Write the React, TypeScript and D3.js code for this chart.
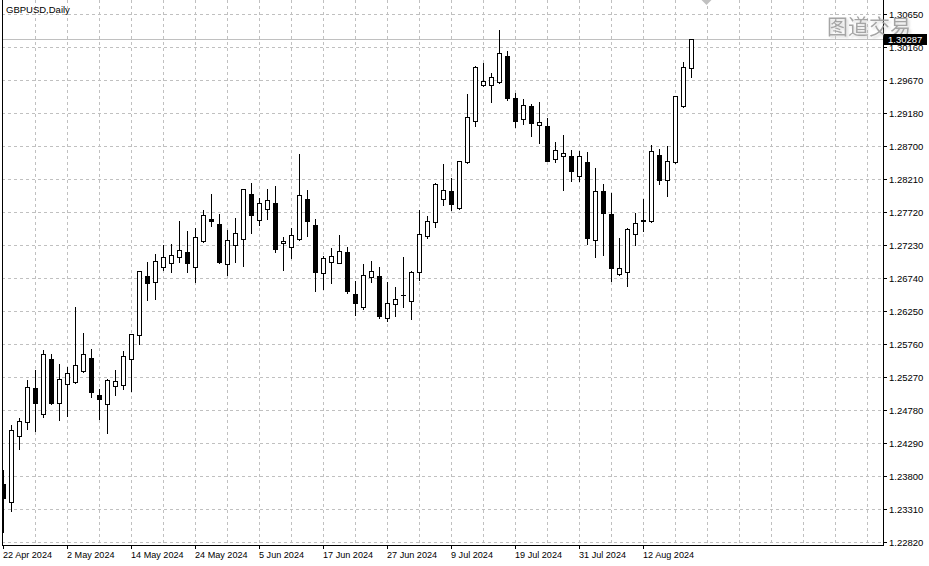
import React from 'react';
import * as d3 from 'd3';

const chartTitle = 'GBPUSD,Daily';
const watermark = '图道交易';
const startDate = '2024-04-22';

const openPrices = [
  1.23676, 1.23404, 1.24384, 1.24592, 1.25097, 1.24711, 1.25527, 1.24883, 1.25165, 1.25190,
  1.25349, 1.25546, 1.24997, 1.24859, 1.25126, 1.25141, 1.25527, 1.25883, 1.26760, 1.26670,
  1.26893, 1.26953, 1.27053, 1.27120, 1.26902, 1.27279, 1.27610, 1.27536, 1.26947, 1.27229,
  1.27318, 1.27982, 1.27600, 1.27763, 1.27848, 1.27250, 1.27199, 1.27309, 1.27903, 1.27517,
  1.26804, 1.26967, 1.26953, 1.27116, 1.26497, 1.26308, 1.26754, 1.26764, 1.26136, 1.26344,
  1.26477, 1.26397, 1.26819, 1.27362, 1.27561, 1.27903, 1.28026, 1.27769, 1.28452, 1.29061,
  1.29596, 1.29596, 1.29640, 1.30031, 1.29402, 1.29091, 1.29284, 1.29002, 1.28987, 1.28497,
  1.28541, 1.28546, 1.28253, 1.28452, 1.27294, 1.28022, 1.27685, 1.26794, 1.26819, 1.27383,
  1.27595, 1.27576, 1.28561, 1.28194, 1.28461, 1.29293, 1.29848,
];
const highPrices = [
  1.23894, 1.24562, 1.24666, 1.25235, 1.25383, 1.25680, 1.25616, 1.25472, 1.25428, 1.26319,
  1.25933, 1.25695, 1.25097, 1.25245, 1.25379, 1.25661, 1.25907, 1.26849, 1.26982, 1.27101,
  1.27235, 1.27250, 1.27595, 1.27447, 1.27487, 1.27754, 1.28001, 1.27704, 1.27462, 1.27640,
  1.28066, 1.28160, 1.27937, 1.28071, 1.28115, 1.27358, 1.27487, 1.28590, 1.28056, 1.27621,
  1.27083, 1.27190, 1.27388, 1.27209, 1.26705, 1.26953, 1.27002, 1.26912, 1.26690, 1.26616,
  1.27061, 1.26853, 1.27759, 1.27670, 1.28155, 1.28442, 1.28238, 1.28470, 1.29481, 1.29892,
  1.29941, 1.29789, 1.30431, 1.30120, 1.29500, 1.29407, 1.29328, 1.29362, 1.29125, 1.28768,
  1.28872, 1.28650, 1.28635, 1.28620, 1.28382, 1.28140, 1.28007, 1.27339, 1.27496, 1.27714,
  1.27918, 1.28724, 1.28669, 1.28709, 1.29436, 1.29956, 1.30300,
];
const lowPrices = [
  1.22967, 1.23279, 1.24195, 1.24497, 1.24463, 1.24670, 1.24863, 1.24626, 1.24685, 1.25180,
  1.25345, 1.24972, 1.24645, 1.24437, 1.25002, 1.25091, 1.25061, 1.25750, 1.26408, 1.26422,
  1.26860, 1.26826, 1.26976, 1.26823, 1.26679, 1.27275, 1.27506, 1.26961, 1.26779, 1.26972,
  1.26912, 1.27407, 1.27521, 1.27606, 1.27120, 1.26853, 1.27031, 1.27305, 1.27358, 1.26546,
  1.26564, 1.26665, 1.26950, 1.26516, 1.26185, 1.26270, 1.26679, 1.26136, 1.26100, 1.26175,
  1.26308, 1.26126, 1.26705, 1.27333, 1.27496, 1.27818, 1.27744, 1.27765, 1.28448, 1.28991,
  1.29590, 1.29352, 1.29636, 1.29377, 1.28981, 1.29021, 1.28843, 1.28743, 1.28472, 1.28461,
  1.28041, 1.28175, 1.28175, 1.27239, 1.27051, 1.27076, 1.26694, 1.26779, 1.26616, 1.27220,
  1.27432, 1.27572, 1.28130, 1.27956, 1.28442, 1.29278, 1.29723,
];
const closePrices = [
  1.23463, 1.24473, 1.24607, 1.25111, 1.24883, 1.25601, 1.24878, 1.25230, 1.25319, 1.25438,
  1.25601, 1.25046, 1.24938, 1.25215, 1.25200, 1.25572, 1.25898, 1.26834, 1.26667, 1.26982,
  1.27042, 1.27071, 1.27147, 1.26961, 1.27339, 1.27665, 1.27585, 1.26972, 1.27299, 1.27398,
  1.28051, 1.27674, 1.27843, 1.27888, 1.27169, 1.27284, 1.27368, 1.27962, 1.27585, 1.26828,
  1.27027, 1.27057, 1.27135, 1.26546, 1.26368, 1.26774, 1.26834, 1.26175, 1.26363, 1.26418,
  1.26477, 1.26819, 1.27383, 1.27576, 1.28126, 1.28036, 1.27838, 1.28467, 1.29120, 1.29863,
  1.29655, 1.29714, 1.30071, 1.29411, 1.29070, 1.29299, 1.29040, 1.29046, 1.28476, 1.28630,
  1.28586, 1.28327, 1.28541, 1.27333, 1.28022, 1.27704, 1.26887, 1.26878, 1.27457, 1.27546,
  1.27576, 1.28616, 1.28194, 1.28467, 1.29432, 1.29863, 1.30287,
];

const priceTickLabels = [
  '1.30650', '1.30160', '1.29670', '1.29180', '1.28700', '1.28210', '1.27720', '1.27230',
  '1.26740', '1.26250', '1.25760', '1.25270', '1.24780', '1.24290', '1.23800', '1.23310', '1.22820',
];
const lastPriceLabel = '1.30287';
const dateLabelEvery = 8;
const gridEvery = 4;

function tradingDays(start: string, n: number): Date[] {
  const out: Date[] = [];
  const d = new Date(start + 'T00:00:00');
  while (out.length < n) {
    const wd = d.getDay();
    if (wd !== 0 && wd !== 6) out.push(new Date(d));
    d.setDate(d.getDate() + 1);
  }
  return out;
}

export default function App() {
  const W = 929;
  const H = 566;
  const left = 2;
  const right = 883;
  const bottom = 545;
  const font = "'Liberation Sans', Arial, sans-serif";
  const fs = 9.5;

  const n = openPrices.length;
  const dates = tradingDays(startDate, n);
  const fmt = d3.timeFormat('%-d %b %Y');

  const x = d3.scaleLinear().domain([0, 110]).range([3, 883]);
  const y = d3.scaleLinear().domain([1.2282, 1.3065]).range([541.6, 14.3]);

  const px = (v: number) => Math.round(v) + 0.5;

  const vGrid: number[] = [];
  for (let i = gridEvery; x(i) < right; i += gridEvery) vGrid.push(i);
  const dateTicks = d3.range(0, n, dateLabelEvery);

  const lastY = px(y(parseFloat(lastPriceLabel)));

  return (
    <svg
      width={W}
      height={H}
      style={{ position: 'absolute', left: 0, top: 0, background: '#fff' }}
      fontFamily={font}
    >
      <defs>
        <clipPath id="plot">
          <rect x={left + 1} y={0} width={right - left - 1} height={bottom} />
        </clipPath>
        <filter id="wm" x="-10%" y="-20%" width="130%" height="150%">
          <feGaussianBlur in="SourceAlpha" stdDeviation="1.2" result="b" />
          <feOffset in="b" dx="1.5" dy="2" result="o" />
          <feFlood floodColor="#bbbbbb" floodOpacity="0.6" />
          <feComposite in2="o" operator="in" result="s" />
          <feMerge>
            <feMergeNode in="s" />
            <feMergeNode in="SourceGraphic" />
          </feMerge>
        </filter>
      </defs>
      <rect x={0} y={0} width={W} height={H} fill="#fff" />

      {/* grid */}
      <g stroke="#c0c0c0" strokeDasharray="3,3" shapeRendering="crispEdges">
        {priceTickLabels.map((t) => (
          <line key={'h' + t} x1={left} x2={right} y1={px(y(parseFloat(t)))} y2={px(y(parseFloat(t)))} />
        ))}
        {vGrid.map((i) => (
          <line key={'v' + i} x1={px(x(i))} x2={px(x(i))} y1={0} y2={bottom} />
        ))}
      </g>

      {/* last price line */}
      <line x1={left} x2={right} y1={lastY} y2={lastY} stroke="#c0c0c0" shapeRendering="crispEdges" />

      {/* candles */}
      <g clipPath="url(#plot)" shapeRendering="crispEdges">
        {openPrices.map((o, i) => {
          const c = closePrices[i];
          const h = highPrices[i];
          const l = lowPrices[i];
          const cx = Math.round(x(i));
          const top = px(y(Math.max(o, c)));
          const bot = px(y(Math.min(o, c)));
          const bull = c >= o;
          return (
            <g key={i}>
              <line x1={cx + 0.5} x2={cx + 0.5} y1={px(y(h))} y2={px(y(l))} stroke="#000" />
              {bot - top < 1 ? (
                <line x1={cx - 2} x2={cx + 3} y1={top} y2={top} stroke="#000" />
              ) : (
                <rect
                  x={cx - 1.5}
                  y={top}
                  width={4}
                  height={bot - top}
                  fill={bull ? '#fff' : '#000'}
                  stroke="#000"
                />
              )}
            </g>
          );
        })}
      </g>

      {/* frame */}
      <g stroke="#000" shapeRendering="crispEdges">
        <line x1={left + 0.5} x2={left + 0.5} y1={0} y2={bottom + 1} />
        <line x1={right + 0.5} x2={right + 0.5} y1={0} y2={bottom + 1} />
        <line x1={left} x2={right + 1} y1={bottom + 0.5} y2={bottom + 0.5} />
      </g>

      {/* chart shift marker */}
      <polygon points="701.5,0 711.5,0 706.5,5" fill="#c0c0c0" />

      {/* title */}
      <text x={6} y={13} fontSize={fs} fill="#000">{chartTitle}</text>

      {/* price axis */}
      <g>
        {priceTickLabels.map((t) => {
          const yy = px(y(parseFloat(t)));
          return (
            <g key={'p' + t}>
              <line x1={884} x2={887} y1={yy} y2={yy} stroke="#000" shapeRendering="crispEdges" />
              <text x={889} y={yy + 3.5} fontSize={fs} fill="#000">{t}</text>
            </g>
          );
        })}
      </g>

      {/* date axis */}
      <g>
        {dateTicks.map((i) => (
          <g key={'d' + i}>
            <line x1={px(x(i))} x2={px(x(i))} y1={bottom} y2={bottom + 4} stroke="#000" shapeRendering="crispEdges" />
            <text x={Math.round(x(i))} y={558} fontSize={9.1} fill="#000">{fmt(dates[i])}</text>
          </g>
        ))}
      </g>

      {/* watermark */}
      <text
        x={827}
        y={34}
        fontSize={21}
        fontFamily="'Noto Sans CJK SC', sans-serif"
        fill="#9c9c9c"
        opacity={0.9}
        filter="url(#wm)"
      >
        {watermark}
      </text>

      {/* last price label */}
      <rect x={884} y={lastY - 6} width={43} height={11} fill="#000" shapeRendering="crispEdges" />
      <text x={888} y={lastY + 3.5} fontSize={fs} fill="#fff">{lastPriceLabel}</text>
    </svg>
  );
}
